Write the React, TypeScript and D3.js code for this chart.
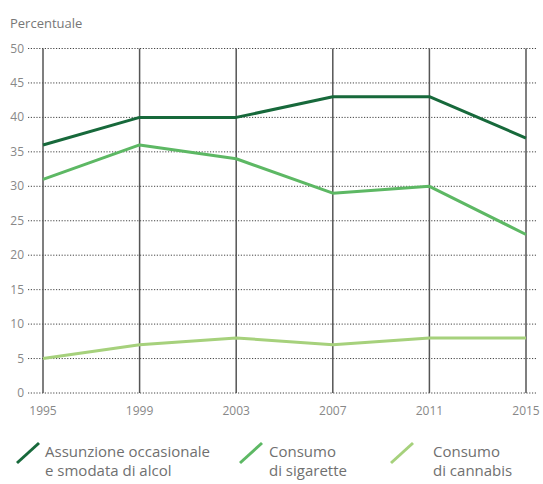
import React from "react";
import * as d3 from "d3";

const years = [1995, 1999, 2003, 2007, 2011, 2015];
const alcol = [36, 40, 40, 43, 43, 37];
const sigarette = [31, 36, 34, 29, 30, 23];
const cannabis = [5, 7, 8, 7, 8, 8];
const yTicks = [0, 5, 10, 15, 20, 25, 30, 35, 40, 45, 50];
const seriesNames = [
  ["Assunzione occasionale", "e smodata di alcol"],
  ["Consumo", "di sigarette"],
  ["Consumo", "di cannabis"],
];
const colors = ["#17693b", "#5db864", "#a6d17c"];

export default function App() {
  const W = 543, H = 484;
  const x = d3.scaleLinear().domain([1995, 2015]).range([43, 526]);
  const y = d3.scaleLinear().domain([0, 50]).range([393, 48.5]);
  const line = d3.line<number>().x((_, i) => x(years[i])).y((d) => y(d));
  const series = [alcol, sigarette, cannabis];
  const font = "'Open Sans', 'Liberation Sans', sans-serif";
  const legendX = [17, 240, 391];
  const textX = [45, 269, 433];
  return (
    <svg width={W} height={H} style={{ position: "absolute", left: 0, top: 0, background: "#fff" }} fontFamily={font}>
      <text x={10} y={28} fontSize={13} fill="#777">Percentuale</text>
      {yTicks.map((t) => (
        <g key={t}>
          <line x1={28} x2={536} y1={y(t)} y2={y(t)} stroke="#444" strokeWidth={1} strokeDasharray="1.2,1.6" />
          <text x={24} y={y(t) + 4} fontSize={12} fill="#888" textAnchor="end">{t}</text>
        </g>
      ))}
      {years.map((yr) => (
        <g key={yr}>
          <line x1={x(yr)} x2={x(yr)} y1={y(50)} y2={y(0)} stroke="#555" strokeWidth={1.5} />
          <text x={x(yr)} y={415} fontSize={12} fill="#888" textAnchor="middle">{yr}</text>
        </g>
      ))}
      {series.map((s, i) => (
        <path key={i} d={line(s) || ""} fill="none" stroke={colors[i]} strokeWidth={3} strokeLinejoin="round" />
      ))}
      {seriesNames.map((n, i) => (
        <g key={i}>
          <line x1={legendX[i]} y1={463} x2={legendX[i] + 22} y2={443} stroke={colors[i]} strokeWidth={3} />
          <text x={textX[i]} y={457} fontSize={15} fill="#707070">{n[0]}</text>
          <text x={textX[i]} y={476} fontSize={15} fill="#707070">{n[1]}</text>
        </g>
      ))}
    </svg>
  );
}
